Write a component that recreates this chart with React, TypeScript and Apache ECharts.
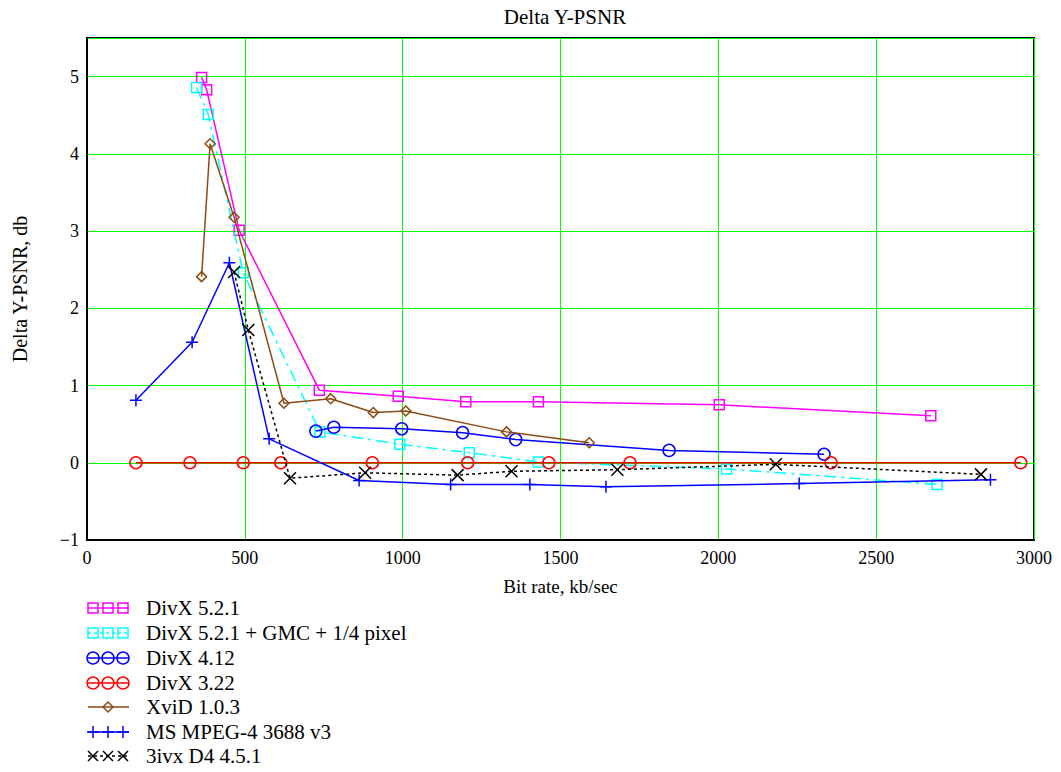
import React, { useEffect, useRef } from 'react';
import * as echarts from 'echarts';

const FONT = '"Liberation Serif", "Times New Roman", serif';

const titleText = 'Delta Y-PSNR';
const xAxisName = 'Bit rate, kb/sec';
const yAxisName = 'Delta Y-PSNR, db';

const seriesNames = [
  'DivX 5.2.1',
  'DivX 5.2.1 + GMC + 1/4 pixel',
  'DivX 4.12',
  'DivX 3.22',
  'XviD 1.0.3',
  'MS MPEG-4 3688 v3',
  '3ivx D4 4.5.1',
];

// DivX 5.2.1
const divx521X = [363, 379, 482, 736, 986, 1200, 1430, 2003, 2673];
const divx521Y = [4.99, 4.83, 3.01, 0.94, 0.86, 0.79, 0.79, 0.75, 0.61];
// DivX 5.2.1 + GMC + 1/4 pixel
const divxGmcX = [347, 384, 495, 738, 991, 1211, 1430, 2026, 2693];
const divxGmcY = [4.86, 4.51, 2.46, 0.4, 0.24, 0.13, 0.01, -0.08, -0.28];
// DivX 4.12
const divx412X = [725, 782, 997, 1190, 1358, 1844, 2335];
const divx412Y = [0.41, 0.46, 0.44, 0.39, 0.3, 0.16, 0.11];
// DivX 3.22
const divx322X = [155, 326, 495, 614, 904, 1206, 1463, 1720, 2357, 2958];
const divx322Y = [0, 0, 0, 0, 0, 0, 0, 0, 0, 0];
// XviD 1.0.3
const xvidX = [363, 390, 466, 624, 772, 907, 1010, 1329, 1591];
const xvidY = [2.41, 4.13, 3.18, 0.77, 0.83, 0.65, 0.67, 0.4, 0.26];
// MS MPEG-4 3688 v3
const msX = [155, 333, 451, 577, 862, 1152, 1403, 1644, 2256, 2862];
const msY = [0.81, 1.56, 2.59, 0.31, -0.23, -0.28, -0.28, -0.31, -0.27, -0.22];
// 3ivx D4 4.5.1
const ivxX = [466, 511, 643, 881, 1174, 1345, 1680, 2182, 2832];
const ivxY = [2.47, 1.72, -0.2, -0.13, -0.16, -0.11, -0.09, -0.02, -0.15];

const xTicks = [0, 500, 1000, 1500, 2000, 2500, 3000];
const yTicks = [-1, 0, 1, 2, 3, 4, 5];

const zip = (xs: number[], ys: number[]) => xs.map((x, i) => [x, ys[i]]);

const PLUS = 'path://M5,0L5,10M0,5L10,5';
const CROSS = 'path://M0,0L10,10M10,0L0,10';

type Style = {
  color: string;
  marker: 'rect' | 'circle' | 'diamond' | 'plus' | 'cross';
  size: number;
  dash?: number[] | 'solid';
  width: number;
  legendCount: number;
};

const styles: Style[] = [
  { color: '#ff00ff', marker: 'rect', size: 10, width: 1.5, legendCount: 3 },
  { color: '#00ffff', marker: 'rect', size: 10, width: 1.5, dash: [12, 5, 3, 5], legendCount: 3 },
  { color: '#0000ff', marker: 'circle', size: 12, width: 1.5, legendCount: 3 },
  { color: '#ff0000', marker: 'circle', size: 12, width: 1.5, legendCount: 3 },
  { color: '#8c4a14', marker: 'diamond', size: 10, width: 1.5, legendCount: 1 },
  { color: '#0000ff', marker: 'plus', size: 12, width: 1.5, legendCount: 3 },
  { color: '#000000', marker: 'cross', size: 12, width: 1.5, dash: [3, 3], legendCount: 3 },
];

const seriesData = [
  zip(divx521X, divx521Y),
  zip(divxGmcX, divxGmcY),
  zip(divx412X, divx412Y),
  zip(divx322X, divx322Y),
  zip(xvidX, xvidY),
  zip(msX, msY),
  zip(ivxX, ivxY),
];

const symbolOf = (m: Style['marker']) =>
  m === 'plus' ? PLUS : m === 'cross' ? CROSS : m;

function legendMarker(s: Style, cx: number, cy: number): any[] {
  const st = { fill: 'none', stroke: s.color, lineWidth: 1.5 };
  const h = s.size / 2;
  switch (s.marker) {
    case 'rect':
      return [{ type: 'rect', shape: { x: cx - 5, y: cy - 5, width: 10, height: 10 }, style: st }];
    case 'circle':
      return [{ type: 'circle', shape: { cx, cy, r: 6 }, style: st }];
    case 'diamond':
      return [{ type: 'polygon', shape: { points: [[cx, cy - 5], [cx + 5, cy], [cx, cy + 5], [cx - 5, cy]] }, style: st }];
    case 'plus':
      return [
        { type: 'line', shape: { x1: cx - h, y1: cy, x2: cx + h, y2: cy }, style: st },
        { type: 'line', shape: { x1: cx, y1: cy - h, x2: cx, y2: cy + h }, style: st },
      ];
    default:
      return [
        { type: 'line', shape: { x1: cx - 5, y1: cy - 5, x2: cx + 5, y2: cy + 5 }, style: st },
        { type: 'line', shape: { x1: cx + 5, y1: cy - 5, x2: cx - 5, y2: cy + 5 }, style: st },
      ];
  }
}

function buildLegend(): any[] {
  const out: any[] = [];
  const rowY = [608, 633, 658, 683, 707, 732, 756];
  seriesNames.forEach((name, i) => {
    const s = styles[i];
    const y = rowY[i];
    out.push({
      type: 'line',
      shape: { x1: 88, y1: y, x2: 129, y2: y },
      style: { stroke: s.color, lineWidth: 1.5, lineDash: Array.isArray(s.dash) ? [3, 3] : null },
    });
    const xs = s.legendCount === 3 ? [93, 108, 123] : [108];
    xs.forEach((x) => out.push(...legendMarker(s, x, y)));
    out.push({
      type: 'text',
      x: 146,
      y,
      style: { text: name, font: `21px ${FONT}`, fill: '#000', verticalAlign: 'middle', align: 'left' },
    });
  });
  return out;
}

export default function App() {
  const ref = useRef<HTMLDivElement>(null);
  useEffect(() => {
    if (!ref.current) return;
    const chart = echarts.init(ref.current, null, { renderer: 'svg' });
    const option: any = {
      animation: false,
      backgroundColor: '#fff',
      title: {
        text: titleText,
        left: 560,
        top: 1,
        textAlign: 'center',
        textStyle: { fontFamily: FONT, fontSize: 21, fontWeight: 'normal', color: '#000' },
      },
      grid: {
        left: 87,
        right: 27,
        top: 38,
        bottom: 232,
        show: true,
        borderColor: '#000',
        borderWidth: 2,
      },
      xAxis: {
        type: 'value',
        min: xTicks[0],
        max: xTicks[xTicks.length - 1],
        interval: 500,
        name: xAxisName,
        nameLocation: 'middle',
        nameGap: 37,
        nameTextStyle: { fontFamily: FONT, fontSize: 19, color: '#000' },
        axisLine: { show: true, onZero: false, lineStyle: { color: '#000', width: 2 } },
        axisTick: { show: false },
        axisLabel: {
          fontFamily: FONT,
          fontSize: 18,
          color: '#000',
          margin: 9,
          formatter: (v: number) => String(v),
        },
        splitLine: { show: true, lineStyle: { color: '#00ff00', width: 1 } },
      },
      yAxis: {
        type: 'value',
        min: yTicks[0],
        max: 5.5,
        interval: 1,
        name: yAxisName,
        nameLocation: 'middle',
        nameGap: 57,
        nameRotate: 90,
        nameTextStyle: { fontFamily: FONT, fontSize: 20, color: '#000' },
        axisLine: { show: true, onZero: false, lineStyle: { color: '#000', width: 2 } },
        axisTick: { show: false },
        axisLabel: {
          fontFamily: FONT,
          fontSize: 18,
          color: '#000',
          margin: 8,
          showMaxLabel: false,
          formatter: (v: number) =>
            yTicks.includes(v) ? (v < 0 ? '\u2212' + Math.abs(v) : String(v)) : '',
        },
        splitLine: { show: true, lineStyle: { color: '#00ff00', width: 1 } },
      },
      series: seriesNames.map((name, i) => {
        const s = styles[i];
        return {
          name,
          type: 'line',
          data: seriesData[i],
          symbol: symbolOf(s.marker),
          symbolSize: s.size,
          showAllSymbol: true,
          lineStyle: { color: s.color, width: s.width, type: s.dash || 'solid' },
          itemStyle: { color: 'rgba(0,0,0,0)', borderColor: s.color, borderWidth: 1.5 },
          emphasis: { disabled: true },
          z: 2 + i,
        };
      }),
      graphic: buildLegend(),
    };
    chart.setOption(option);
    return () => chart.dispose();
  }, []);
  return (
    <div
      ref={ref}
      style={{ position: 'fixed', left: 0, top: 0, width: 1061, height: 772 }}
    />
  );
}
